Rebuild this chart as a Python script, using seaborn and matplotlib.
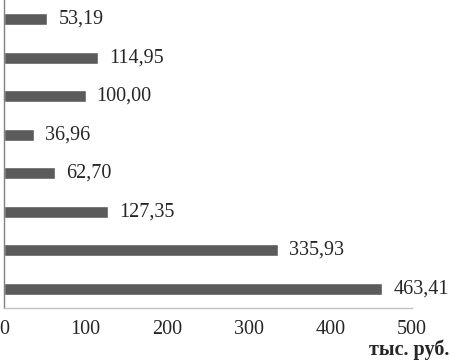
import seaborn as sns
import matplotlib.pyplot as plt
import pandas as pd

# Data (top to bottom as in the chart)
categories = ["1", "2", "3", "4", "5", "6", "7", "8"]
values = [53.19, 114.95, 100.00, 36.96, 62.70, 127.35, 335.93, 463.41]
x_ticks = [0, 100, 200, 300, 400, 500]
unit_label = "тыс. руб."

df = pd.DataFrame({"cat": categories, "value": values})

sns.set_style("white")
plt.rcParams['font.family'] = ['Liberation Serif', 'DejaVu Serif']

fig = plt.figure(figsize=(4.51, 3.62), dpi=100)
ax = fig.add_axes([4 / 451, 1 - 308 / 362, 408 / 451, 308 / 362])

sns.barplot(data=df, x="value", y="cat", orient="h", color="#5b5b5b",
            saturation=1, width=0.31, ax=ax)

for i, v in enumerate(values):
    ax.annotate(("%.2f" % v).replace(".", ","), (v, i), xytext=(8, 0),
                textcoords="offset points", va="center", ha="left", fontsize=14.5)

ax.set_xlim(0, 500)
ax.set_ylim(len(categories) - 0.5, -0.5)
ax.set_xticks(x_ticks)
ax.set_xticklabels([str(t) for t in x_ticks], fontsize=14.5)
ax.tick_params(axis="x", length=0, pad=9)
ax.set_yticks([])
ax.set_xlabel("")
ax.set_ylabel("")

for s in ["top", "right"]:
    ax.spines[s].set_visible(False)
ax.spines["left"].set_color("#808080")
ax.spines["bottom"].set_color("#c0c0c0")
ax.spines["left"].set_linewidth(1)
ax.spines["bottom"].set_linewidth(1)

fig.text(449 / 451, 2 / 362, unit_label, ha="right", va="bottom",
         fontsize=14.5, fontweight="bold")

plt.savefig("out.png", dpi=100)
